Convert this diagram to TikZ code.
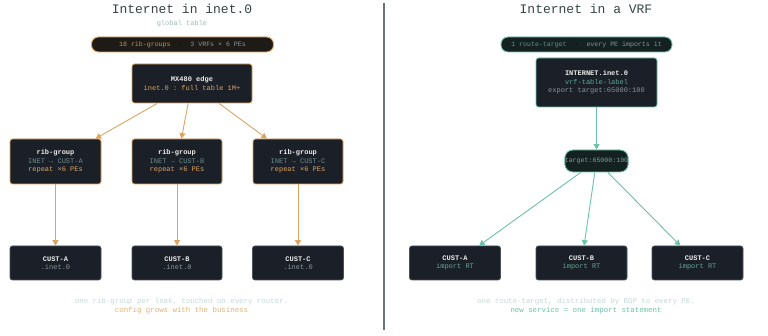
\documentclass[tikz,border=0pt]{standalone}
\usepackage{fontspec}
\setmonofont{Liberation Mono}
\usetikzlibrary{arrows.meta}
\definecolor{boxfill}{HTML}{1B2028}
\definecolor{pillfillL}{HTML}{1E1A16}
\definecolor{pillfillR}{HTML}{132220}
\definecolor{org}{HTML}{DBA462}
\definecolor{pilltxt}{HTML}{B8955E}
\definecolor{teal}{HTML}{6CC2AA}
\definecolor{tealtxt}{HTML}{5FA896}
\definecolor{grtxt}{HTML}{8A949C}
\definecolor{inettxt}{HTML}{6A8C8C}
\definecolor{whtxt}{HTML}{ECECEC}
\definecolor{titlec}{HTML}{374444}
\definecolor{subc}{HTML}{9FBCBC}
\definecolor{footc}{HTML}{C5D8D8}
\definecolor{custborder}{HTML}{4A525C}
\definecolor{divc}{HTML}{6B7280}
\tikzset{
  title/.style={font=\fontsize{13}{15}\selectfont\ttfamily, text=titlec, inner sep=0pt},
  subtitle/.style={font=\fontsize{7}{9}\selectfont\ttfamily, text=subc, inner sep=0pt},
  pillbox/.style={rounded corners=7pt, line width=0.9pt, inner sep=0pt, minimum height=15pt,
     font=\fontsize{6.6}{8}\selectfont\ttfamily},
  nodebox/.style={draw, fill=boxfill, rounded corners=2.5pt, line width=0.8pt, inner sep=0pt,
     align=center, font=\fontsize{7}{8.6}\selectfont\ttfamily, text=whtxt},
  footer/.style={font=\fontsize{7.4}{9}\selectfont\ttfamily, inner sep=0pt},
  arrO/.style={draw=org, line width=0.9pt, -{Triangle[length=5.5pt,width=6pt]}},
  arrT/.style={draw=teal, line width=0.9pt, -{Triangle[length=5.5pt,width=6pt]}},
}
\begin{document}
\begin{tikzpicture}[x=1pt,y=-1pt]
\useasboundingbox[fill=white] (0,0) rectangle (768,336);

% divider
\coordinate (dtop) at (384,3);
\coordinate (dbot) at (384,330);
\draw[divc, line width=1.4pt] (dtop) -- (dbot);

% ---------------- left ----------------
\node[title] (t1) at (182,9) {Internet in inet.0};
\node[subtitle] (s1) at (182,24) {global table};
\node[pillbox, draw=org, fill=pillfillL, minimum width=182pt] (p1) at (182.5,44.5)
  {\textcolor{pilltxt}{18 rib-groups}~~·~~\textcolor{grtxt}{3 VRFs × 6 PEs}};

\node[nodebox, draw=org, minimum width=120pt, minimum height=39pt] (mx) at (192,83.5)
  {\textbf{MX480 edge}\\\textcolor{org}{inet.0 : full table 1M+}};

\node[nodebox, draw=org, minimum width=91pt, minimum height=45pt] (ribA) at (55.5,161.5)
  {\textbf{rib-group}\\\textcolor{inettxt}{INET → CUST-A}\\\textcolor{org}{repeat ×6 PEs}};
\node[nodebox, draw=org, minimum width=90pt, minimum height=45pt] (ribB) at (177,161.5)
  {\textbf{rib-group}\\\textcolor{inettxt}{INET → CUST-B}\\\textcolor{org}{repeat ×6 PEs}};
\node[nodebox, draw=org, minimum width=90pt, minimum height=45pt] (ribC) at (298,161.5)
  {\textbf{rib-group}\\\textcolor{inettxt}{INET → CUST-C}\\\textcolor{org}{repeat ×6 PEs}};

\node[nodebox, draw=custborder, minimum width=91pt, minimum height=34pt] (cA) at (55.5,263)
  {\textbf{CUST-A}\\\textcolor{grtxt}{.inet.0}};
\node[nodebox, draw=custborder, minimum width=90pt, minimum height=34pt] (cB) at (177,263)
  {\textbf{CUST-B}\\\textcolor{grtxt}{.inet.0}};
\node[nodebox, draw=custborder, minimum width=91pt, minimum height=34pt] (cC) at (298,263)
  {\textbf{CUST-C}\\\textcolor{grtxt}{.inet.0}};

\draw[arrO] (mx) -- (ribA);
\draw[arrO] (mx) -- (ribB);
\draw[arrO] (mx) -- (ribC);
\draw[arrO] (ribA) -- (cA);
\draw[arrO] (ribB) -- (cB);
\draw[arrO] (ribC) -- (cC);

\node[footer, text=footc] (f1) at (181.5,302) {one rib-group per leak, touched on every router.};
\node[footer, text=org!85!white] (f2) at (181.5,311) {config grows with the business};

% ---------------- right ----------------
\node[title] (t2) at (586,9) {Internet in a VRF};
\node[pillbox, draw=teal, fill=pillfillR, minimum width=171pt] (p2) at (586.5,44.5)
  {\textcolor{inettxt}{1 route-target}~~·~~\textcolor{grtxt}{every PE imports it}};

\node[nodebox, draw=teal, minimum width=121pt, minimum height=49pt] (inet) at (596.5,82.5)
  {\textbf{INTERNET.inet.0}\\\textcolor{tealtxt}{vrf-table-label}\\\textcolor{grtxt}{export target:65000:100}};

\node[draw=teal, fill=pillfillR, rounded corners=8pt, line width=0.9pt, inner sep=0pt,
      minimum width=60pt, minimum height=22pt, text=grtxt!80!teal,
      font=\fontsize{6.6}{8}\selectfont\ttfamily] (rt) at (596.5,161) {target:65000:100};

\node[nodebox, draw=custborder, minimum width=91pt, minimum height=34pt] (rA) at (455,263)
  {\textbf{CUST-A}\\\textcolor{tealtxt!85!gray}{import RT}};
\node[nodebox, draw=custborder, minimum width=91pt, minimum height=34pt] (rB) at (581.5,263)
  {\textbf{CUST-B}\\\textcolor{tealtxt!85!gray}{import RT}};
\node[nodebox, draw=custborder, minimum width=91pt, minimum height=34pt] (rC) at (697.5,263)
  {\textbf{CUST-C}\\\textcolor{tealtxt!85!gray}{import RT}};

\draw[arrT] (inet) -- (rt);
\draw[arrT] (rt) -- (rA);
\draw[arrT] (rt) -- (rB);
\draw[arrT] (rt) -- (rC);

\node[footer, text=footc] (f3) at (586,302) {one route-target, distributed by BGP to every PE.};
\node[footer, text=teal] (f4) at (586,311) {new service = one import statement};
\end{tikzpicture}
\end{document}
